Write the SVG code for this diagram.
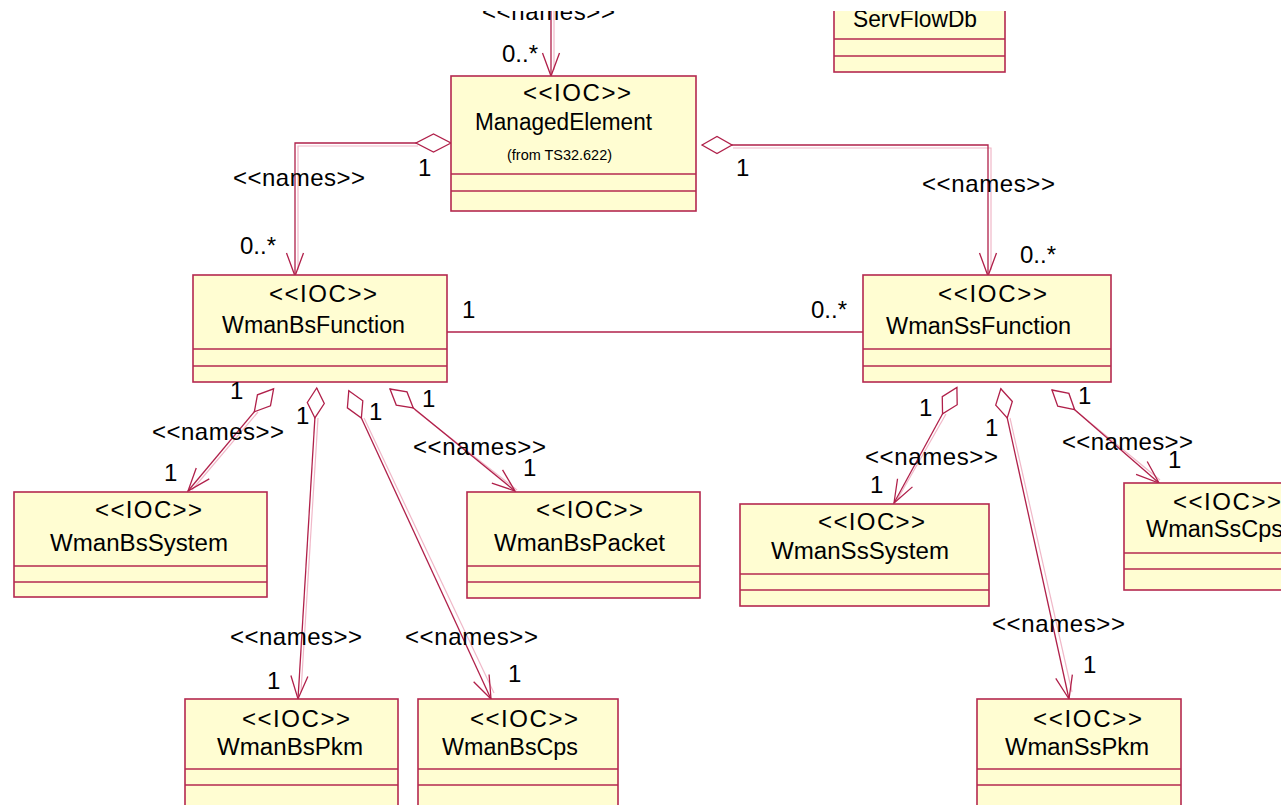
<svg xmlns="http://www.w3.org/2000/svg" width="1288" height="805" viewBox="0 0 1288 805">
<style>
.box{fill:#fffdd2;stroke:#b5284f;stroke-width:1.6}
.sep{stroke:#b5284f;stroke-width:1.3}
.t{font-family:"Liberation Sans",Arial,sans-serif;fill:#000}
.st{font-size:24px}
.nm{font-size:23px}
.lb{font-family:"Liberation Sans",Arial,sans-serif;font-size:24px;fill:#000}
.c{fill:none;stroke:#b0204a;stroke-width:1.3}
.sh{fill:none;stroke:#f0b8c8;stroke-width:1.2}
</style>
<defs>
<marker id="arr" markerUnits="userSpaceOnUse" viewBox="-25 -12 30 24" markerWidth="30" markerHeight="24" refX="0" refY="0" orient="auto" overflow="visible">
<path d="M-23,-8.5 L0,0 L-23,8.5" fill="none" stroke="#b0204a" stroke-width="1.3"/>
</marker>
<marker id="dia" markerUnits="userSpaceOnUse" viewBox="-1 -10 34 20" markerWidth="34" markerHeight="20" refX="0" refY="0" orient="auto" overflow="visible">
<path d="M0,0 L15,-8.5 L30,0 L15,8.5 Z" fill="#fff" stroke="#b0204a" stroke-width="1.3"/>
</marker>
<marker id="dia2" markerUnits="userSpaceOnUse" viewBox="-1 -10 37 20" markerWidth="37" markerHeight="20" refX="0" refY="0" orient="auto" overflow="visible">
<path d="M0,0 L17.5,-9 L35,0 L17.5,9 Z" fill="#fff" stroke="#b0204a" stroke-width="1.3"/>
</marker>
</defs>
<rect width="1288" height="805" fill="#fff"/>

<g id="connectors">
<line class="sh" x1="554" y1="0" x2="554" y2="70"/>
<line class="c" x1="551" y1="0" x2="551" y2="76" marker-end="url(#arr)"/>
<polyline class="sh" points="418,146 298,146 298,270"/>
<polyline class="c" points="451,143 295,143 295,276" marker-start="url(#dia2)" marker-end="url(#arr)"/>
<polyline class="sh" points="733,148 991,148 991,270"/>
<polyline class="c" points="702,145 988,145 988,276" marker-start="url(#dia)" marker-end="url(#arr)"/>
<line class="c" x1="447" y1="332" x2="863" y2="332" stroke-width="1"/>
<g class="sh">
<line x1="258" y1="412" x2="192" y2="490"/>
<line x1="318" y1="418" x2="301" y2="692"/>
<line x1="364" y1="418" x2="494" y2="693"/>
<line x1="415" y1="410" x2="517" y2="490"/>
<line x1="946" y1="414" x2="897" y2="500"/>
<line x1="1010" y1="418" x2="1072" y2="692"/>
<line x1="1076" y1="411" x2="1160" y2="480"/>
</g>
<line class="c" x1="273.6" y1="388.8" x2="188" y2="491" marker-start="url(#dia)" marker-end="url(#arr)"/>
<line class="c" x1="316.7" y1="388" x2="298" y2="699" marker-start="url(#dia)" marker-end="url(#arr)"/>
<line class="c" x1="348.8" y1="390.7" x2="491" y2="699" marker-start="url(#dia)" marker-end="url(#arr)"/>
<line class="c" x1="390" y1="389" x2="515" y2="491" marker-start="url(#dia)" marker-end="url(#arr)"/>
<line class="c" x1="956.9" y1="387.5" x2="894" y2="503" marker-start="url(#dia)" marker-end="url(#arr)"/>
<line class="c" x1="1000.8" y1="388.7" x2="1069" y2="699" marker-start="url(#dia)" marker-end="url(#arr)"/>
<line class="c" x1="1052" y1="390" x2="1159" y2="483" marker-start="url(#dia)" marker-end="url(#arr)"/>
</g>

<g id="ManagedElement">
<rect class="box" x="451" y="76" width="245" height="135"/>
<line class="sep" x1="451" y1="174" x2="696" y2="174"/>
<line class="sep" x1="451" y1="191" x2="696" y2="191"/>
<text class="t st" x="523" y="101" textLength="108" lengthAdjust="spacing">&lt;&lt;IOC&gt;&gt;</text>
<text class="t nm" x="475" y="130" textLength="177" lengthAdjust="spacingAndGlyphs">ManagedElement</text>
<text class="t" x="507" y="160" font-size="15" textLength="105" lengthAdjust="spacingAndGlyphs">(from TS32.622)</text>
</g>

<g id="ServFlowDb">
<rect class="box" x="834" y="-20" width="171" height="92"/>
<line class="sep" x1="834" y1="39" x2="1005" y2="39"/>
<line class="sep" x1="834" y1="56" x2="1005" y2="56"/>
<text class="t nm" x="853" y="27" textLength="124" lengthAdjust="spacingAndGlyphs">ServFlowDb</text>
</g>

<g id="WmanBsFunction">
<rect class="box" x="193" y="275" width="254" height="107"/>
<line class="sep" x1="193" y1="349" x2="447" y2="349"/>
<line class="sep" x1="193" y1="366" x2="447" y2="366"/>
<text class="t st" x="269" y="302" textLength="108" lengthAdjust="spacing">&lt;&lt;IOC&gt;&gt;</text>
<text class="t nm" x="222" y="333" textLength="183" lengthAdjust="spacingAndGlyphs">WmanBsFunction</text>
</g>

<g id="WmanSsFunction">
<rect class="box" x="863" y="275" width="248" height="107"/>
<line class="sep" x1="863" y1="349" x2="1111" y2="349"/>
<line class="sep" x1="863" y1="366" x2="1111" y2="366"/>
<text class="t st" x="938" y="302" textLength="109" lengthAdjust="spacing">&lt;&lt;IOC&gt;&gt;</text>
<text class="t nm" x="886" y="334" textLength="185" lengthAdjust="spacingAndGlyphs">WmanSsFunction</text>
</g>

<g id="WmanBsSystem">
<rect class="box" x="14" y="492" width="253" height="105"/>
<line class="sep" x1="14" y1="566" x2="267" y2="566"/>
<line class="sep" x1="14" y1="582" x2="267" y2="582"/>
<text class="t st" x="95" y="518" textLength="107" lengthAdjust="spacing">&lt;&lt;IOC&gt;&gt;</text>
<text class="t nm" x="50" y="551" textLength="178" lengthAdjust="spacingAndGlyphs">WmanBsSystem</text>
</g>

<g id="WmanBsPacket">
<rect class="box" x="467" y="492" width="233" height="106"/>
<line class="sep" x1="467" y1="566" x2="700" y2="566"/>
<line class="sep" x1="467" y1="582" x2="700" y2="582"/>
<text class="t st" x="536" y="518" textLength="107" lengthAdjust="spacing">&lt;&lt;IOC&gt;&gt;</text>
<text class="t nm" x="494" y="551" textLength="171" lengthAdjust="spacingAndGlyphs">WmanBsPacket</text>
</g>

<g id="WmanSsSystem">
<rect class="box" x="740" y="504" width="249" height="102"/>
<line class="sep" x1="740" y1="574" x2="989" y2="574"/>
<line class="sep" x1="740" y1="590" x2="989" y2="590"/>
<text class="t st" x="818" y="530" textLength="107" lengthAdjust="spacing">&lt;&lt;IOC&gt;&gt;</text>
<text class="t nm" x="771" y="559" textLength="178" lengthAdjust="spacingAndGlyphs">WmanSsSystem</text>
</g>

<g id="WmanSsCps">
<rect class="box" x="1124" y="483" width="200" height="107"/>
<line class="sep" x1="1124" y1="553" x2="1324" y2="553"/>
<line class="sep" x1="1124" y1="569" x2="1324" y2="569"/>
<text class="t st" x="1173" y="510" textLength="108" lengthAdjust="spacing">&lt;&lt;IOC&gt;&gt;</text>
<text class="t nm" x="1146" y="537" textLength="137" lengthAdjust="spacingAndGlyphs">WmanSsCps</text>
</g>

<g id="WmanBsPkm">
<rect class="box" x="185" y="699" width="213" height="130"/>
<line class="sep" x1="185" y1="769" x2="398" y2="769"/>
<line class="sep" x1="185" y1="785" x2="398" y2="785"/>
<text class="t st" x="242" y="727" textLength="108" lengthAdjust="spacing">&lt;&lt;IOC&gt;&gt;</text>
<text class="t nm" x="217" y="755" textLength="146" lengthAdjust="spacingAndGlyphs">WmanBsPkm</text>
</g>

<g id="WmanBsCps">
<rect class="box" x="418" y="699" width="200" height="130"/>
<line class="sep" x1="418" y1="769" x2="618" y2="769"/>
<line class="sep" x1="418" y1="785" x2="618" y2="785"/>
<text class="t st" x="470" y="727" textLength="108" lengthAdjust="spacing">&lt;&lt;IOC&gt;&gt;</text>
<text class="t nm" x="442" y="755" textLength="136" lengthAdjust="spacingAndGlyphs">WmanBsCps</text>
</g>

<g id="WmanSsPkm">
<rect class="box" x="977" y="699" width="204" height="130"/>
<line class="sep" x1="977" y1="769" x2="1181" y2="769"/>
<line class="sep" x1="977" y1="785" x2="1181" y2="785"/>
<text class="t st" x="1033" y="727" textLength="109" lengthAdjust="spacing">&lt;&lt;IOC&gt;&gt;</text>
<text class="t nm" x="1005" y="755" textLength="144" lengthAdjust="spacingAndGlyphs">WmanSsPkm</text>
</g>

<g id="labels">
<text class="lb" x="482" y="20" textLength="133">&lt;&lt;names&gt;&gt;</text>
<text class="lb" x="502" y="62">0..*</text>
<text class="lb" x="233" y="186" textLength="132">&lt;&lt;names&gt;&gt;</text>
<text class="lb" x="418" y="176">1</text>
<text class="lb" x="736" y="176">1</text>
<text class="lb" x="922" y="192" textLength="133">&lt;&lt;names&gt;&gt;</text>
<text class="lb" x="240" y="254">0..*</text>
<text class="lb" x="1020" y="263">0..*</text>
<text class="lb" x="462" y="318">1</text>
<text class="lb" x="811" y="318">0..*</text>
<text class="lb" x="230" y="399">1</text>
<text class="lb" x="152" y="440" textLength="132">&lt;&lt;names&gt;&gt;</text>
<text class="lb" x="164" y="481">1</text>
<text class="lb" x="296" y="424">1</text>
<text class="lb" x="230" y="645" textLength="132">&lt;&lt;names&gt;&gt;</text>
<text class="lb" x="267" y="689">1</text>
<text class="lb" x="369" y="420">1</text>
<text class="lb" x="405" y="645" textLength="133">&lt;&lt;names&gt;&gt;</text>
<text class="lb" x="508" y="682">1</text>
<text class="lb" x="422" y="407">1</text>
<text class="lb" x="413" y="455" textLength="133">&lt;&lt;names&gt;&gt;</text>
<text class="lb" x="523" y="476">1</text>
<text class="lb" x="919" y="416">1</text>
<text class="lb" x="865" y="465" textLength="133">&lt;&lt;names&gt;&gt;</text>
<text class="lb" x="870" y="493">1</text>
<text class="lb" x="985" y="436">1</text>
<text class="lb" x="992" y="632" textLength="133">&lt;&lt;names&gt;&gt;</text>
<text class="lb" x="1083" y="673">1</text>
<text class="lb" x="1078" y="404">1</text>
<text class="lb" x="1062" y="450" textLength="131">&lt;&lt;names&gt;&gt;</text>
<text class="lb" x="1168" y="468">1</text>
</g>

<rect x="0" y="0" width="1288" height="11" fill="#fff"/>
<rect x="1281" y="0" width="7" height="805" fill="#fff"/>
</svg>
